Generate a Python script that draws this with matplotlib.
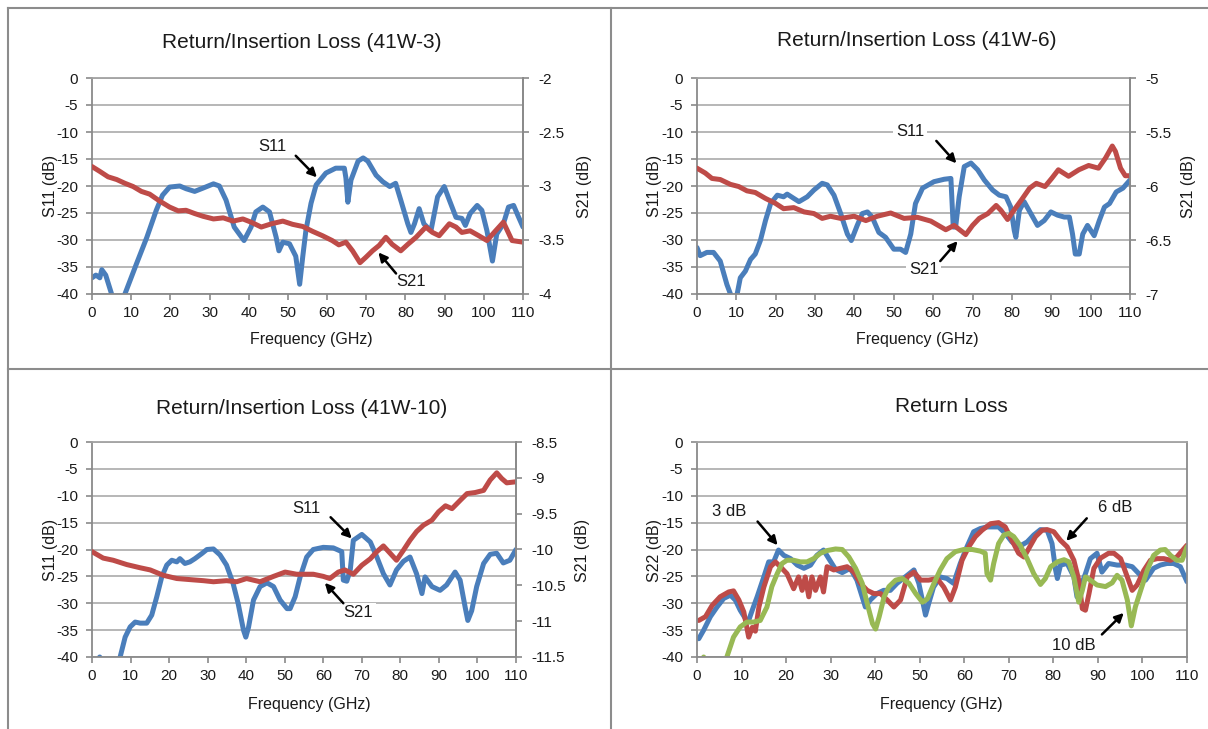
import numpy as np
import matplotlib
matplotlib.use('Agg')
import matplotlib.pyplot as plt
from matplotlib.lines import Line2D
from matplotlib.ticker import MultipleLocator, FormatStrFormatter

plt.rcParams['font.family'] = ['Liberation Sans', 'DejaVu Sans']
plt.rcParams['axes.unicode_minus'] = False

# ---- data (frequency in GHz, levels in dB) ----
p1_f_s11 = [0, 1, 2, 2.5, 3.5, 5, 6.5, 8.4, 11.3, 14, 16.4, 18, 19.8, 22.4, 24, 26.2, 28.3, 31, 32.5, 34.2,
            36.3, 38.8, 40.6, 41.8, 43.6, 45.3, 47, 47.7, 48.7, 50.4, 52, 53, 53.8, 54.6, 55.9, 57.2, 59.7,
            62.2, 64.4, 64.8, 65.3, 66.1, 67.9, 69.2, 70.4, 72.5, 74.2, 76, 77.5, 78.8, 80.6, 81.4, 82.3,
            83.5, 84.7, 86.5, 88.2, 89.9, 91.2, 92.9, 94.4, 95.3, 96.5, 98.3, 99.5, 100.8, 102.2, 103.3,
            105, 106.3, 107.6, 108.9, 110]
p1_s11 = [-37, -36.5, -37, -35.5, -36.5, -40, -45, -40, -34.5, -29.5, -24.5, -21.7, -20.2, -20, -20.5, -21,
          -20.4, -19.6, -20, -22.6, -27.6, -30.1, -27.6, -24.8, -23.9, -24.8, -29.5, -32, -30.4, -30.7, -33,
          -38.2, -33, -28.2, -23.2, -19.8, -17.6, -16.7, -16.7, -18.5, -23, -18.9, -15.4, -14.8, -15.4, -18,
          -19.2, -20.1, -19.5, -22.6, -27, -28.6, -27, -24.2, -27, -28.3, -22, -20.1, -22.6, -25.8, -26,
          -27.3, -25.1, -23.6, -24.5, -28.3, -33.9, -28.9, -27, -23.9, -23.6, -25.8, -27.6]
p1_f_s21 = [0, 2, 4.1, 6.3, 8.4, 10.5, 12.6, 14.7, 17.3, 19.8, 22, 24, 26.2, 28.3, 31, 33.5, 36, 38.5, 40.6,
            43.2, 45.8, 48.7, 51.2, 53.8, 56.3, 58.8, 61.3, 63, 64.8, 66.5, 68.4, 69.9, 71.6, 73.3, 75, 76.6,
            78.8, 80.6, 82.7, 85.2, 86.9, 88.6, 91.2, 92.9, 94.4, 96.5, 98.7, 100.8, 103, 105, 107.2, 110]
p1_s21 = [-2.82, -2.865, -2.915, -2.94, -2.975, -3.005, -3.05, -3.075, -3.14, -3.195, -3.23, -3.225, -3.255,
          -3.28, -3.305, -3.295, -3.325, -3.305, -3.335, -3.38, -3.35, -3.325, -3.355, -3.375, -3.42, -3.46,
          -3.505, -3.545, -3.52, -3.6, -3.71, -3.66, -3.6, -3.55, -3.475, -3.54, -3.6, -3.54, -3.475, -3.38,
          -3.43, -3.46, -3.35, -3.38, -3.43, -3.415, -3.46, -3.505, -3.415, -3.335, -3.505, -3.52]

p2_f_s11 = [0, 0.8, 2.5, 4.2, 5.9, 7.6, 8.5, 9.4, 10.2, 11, 12.3, 13.6, 14.8, 16.1, 17.4, 18.7, 20.4, 22, 22.9,
            24.6, 25.9, 28, 29.7, 31.8, 33.1, 34.8, 36.5, 38.2, 39.2, 40.7, 42, 43.3, 44.5, 46.2, 47.9, 50,
            51.7, 53, 54.3, 55.5, 57.3, 60.2, 62.8, 64.5, 65.1, 65.7, 66.6, 67.9, 69.6, 71.3, 73, 75.1, 76.8,
            78.5, 79.7, 80.6, 81, 81.9, 83.1, 84.8, 86.5, 88.2, 89.9, 91.6, 93.3, 94.6, 95.4, 96.1, 97.1, 98,
            99.2, 100.9, 102.2, 103.5, 104.8, 106.5, 108.2, 110]
p2_s11 = [-31.4, -32.9, -32.3, -32.3, -33.9, -38.25, -40, -43, -40, -37, -35.75, -33.6, -32.6, -30.1, -26.4,
          -23.25, -21.7, -22, -21.5, -22.3, -22.9, -22, -20.75, -19.5, -19.8, -21.7, -25.1, -28.9, -30.1,
          -27.3, -25.1, -24.8, -25.75, -28.6, -29.5, -31.7, -31.7, -32.3, -28.9, -23.25, -20.4, -19.2, -18.75,
          -18.6, -27.6, -27.6, -22, -16.4, -15.75, -17, -18.9, -20.75, -21.7, -22, -23.9, -28.25, -29.5, -24.5,
          -22.9, -25.1, -27.3, -26.4, -24.8, -25.4, -25.75, -25.75, -28.9, -32.6, -32.6, -28.9, -27.3, -29.2,
          -26.4, -23.9, -23.25, -21.1, -20.4, -18.9]
p2_f_s21 = [0, 2.1, 3.8, 5.9, 8.5, 10.6, 12.7, 14.8, 17.4, 19.9, 22, 24.6, 27.2, 29.7, 31.8, 33.9, 36.5, 39.9,
            42.9, 45.8, 49.2, 52.6, 56, 59.4, 63.2, 65.3, 68.3, 70, 71.7, 73.9, 76, 77.2, 78.9, 80.2, 82.4,
            84.5, 86.2, 88.4, 90.1, 91.8, 94.4, 97, 99.5, 102, 103.8, 105.5, 106.3, 107.6, 108.8, 110]
p2_s21 = [-5.835, -5.88, -5.93, -5.94, -5.985, -6.005, -6.045, -6.06, -6.115, -6.16, -6.21, -6.2, -6.24,
          -6.255, -6.3, -6.28, -6.3, -6.28, -6.32, -6.28, -6.25, -6.3, -6.29, -6.325, -6.405, -6.365, -6.45,
          -6.365, -6.3, -6.255, -6.18, -6.225, -6.31, -6.24, -6.13, -6.02, -5.975, -6.005, -5.93, -5.85,
          -5.91, -5.85, -5.81, -5.835, -5.74, -5.63, -5.68, -5.835, -5.905, -5.905]

p3_f_s11 = [0, 2, 4, 6, 7.3, 8.6, 9.9, 11.2, 12.5, 14.2, 15.5, 16.8, 18.1, 19.4, 20.7, 22, 22.8, 24.1, 25.4,
            26.7, 28.5, 29.8, 31.5, 33.2, 34.9, 36.6, 37.9, 39.3, 39.9, 40.6, 41.9, 43.6, 45.4, 47.1, 48.8,
            50.6, 51.4, 52.7, 54, 55.7, 57.4, 60, 62.6, 64.8, 65.2, 66.1, 67, 67.8, 70, 72.2, 73.9, 75.6, 77.3,
            79, 80.8, 82.5, 84.2, 85.6, 86.4, 88.2, 90.3, 92, 94.2, 95.5, 96.8, 97.5, 98.5, 99.8, 101.6, 103.3,
            105, 106.7, 108.4, 110]
p3_s11 = [-42, -40, -42, -43, -40, -36.3, -34.4, -33.5, -33.7, -33.7, -32.2, -28.8, -25.1, -22.9, -22, -22.3,
          -21.7, -22.6, -22.3, -21.7, -20.75, -20, -19.9, -21, -22.9, -26.3, -30, -35, -36.3, -34.5, -29.4,
          -26.9, -26.2, -26.9, -29.4, -31, -31, -28.8, -25.1, -21.4, -20, -19.6, -19.7, -20.4, -25.7, -25.9,
          -23.8, -18.3, -17.2, -18.6, -21.4, -24.5, -26.6, -23.8, -22.2, -21.4, -24.5, -28.2, -25.1, -26.9,
          -27.6, -26.6, -24.2, -25.7, -30.7, -33.2, -31.4, -26.9, -22.6, -20.9, -20.7, -22.5, -22, -20]
p3_f_s21 = [0, 2.9, 5.5, 9, 12.5, 15.1, 18.5, 22, 25.4, 28.9, 31.5, 34.9, 37.5, 40.1, 43.6, 47.1, 50.1, 53.1,
            57.4, 60, 61.7, 63.9, 65.6, 67.8, 70, 72.2, 73.9, 75.6, 77.3, 79, 80.8, 82.5, 84.2, 86, 88.2, 89.9,
            91.7, 93.4, 95.6, 97.3, 99.4, 101.6, 103.3, 105, 106.3, 107.6, 110]
p3_s21 = [-10.03, -10.12, -10.15, -10.21, -10.255, -10.285, -10.36, -10.405, -10.42, -10.435, -10.45, -10.435,
          -10.45, -10.405, -10.45, -10.375, -10.315, -10.345, -10.345, -10.375, -10.405, -10.315, -10.285,
          -10.345, -10.22, -10.13, -10.03, -9.95, -10.05, -10.15, -10.01, -9.87, -9.75, -9.66, -9.59, -9.475,
          -9.39, -9.43, -9.31, -9.22, -9.205, -9.175, -9.03, -8.93, -9.01, -9.07, -9.055]

p4_f_3db = [0.4, 1.5, 3, 4.5, 6, 7.5, 8.6, 9.7, 10.9, 11.6, 12.4, 13.5, 15, 16.1, 17.2, 18.3, 19.5, 21, 22.5,
            24, 25.5, 26.9, 28.4, 29.6, 31.1, 32.6, 34.4, 35.9, 37.8, 38.9, 40.4, 41.9, 43.4, 44.9, 47.2, 48.7,
            49.8, 51.3, 52, 53.1, 54.6, 56.1, 57.6, 59.1, 60.6, 62.1, 63.6, 65.1, 66.2, 67.7, 69.2, 70.7, 72.2,
            74.1, 75.6, 77.1, 78.6, 79.7, 80.5, 80.9, 81.6, 83.1, 84.6, 85.3, 86.1, 87.2, 88.3, 89.8, 90.9,
            92.4, 94.3, 96.2, 97.7, 99.2, 100.7, 102.5, 104, 105.5, 107, 108.5, 110]
p4_3db = [-36.6, -35, -32.5, -30.7, -29.1, -28.5, -29.4, -31.3, -32.9, -33.2, -31.3, -28.8, -25.1, -22.3,
          -22.3, -20.1, -21.1, -21.7, -22.9, -23.5, -22.9, -21.1, -20.1, -21.7, -23.7, -24.3, -23.5, -25.7,
          -30.7, -29.4, -28.2, -27.6, -27.6, -26.3, -24.8, -23.8, -26.3, -32.2, -30.1, -27, -25.1, -25.4,
          -26.3, -22.6, -19.5, -16.7, -16.1, -15.8, -15.8, -15.8, -17, -18.6, -19.5, -18.6, -17.3, -16.3,
          -16.4, -18.9, -23.8, -25.4, -22.9, -22.6, -25.1, -28.8, -27, -24.5, -21.7, -20.7, -24.2, -22.6,
          -22.9, -22.9, -23.2, -24.5, -25.7, -23.5, -22.9, -22.6, -22.6, -23.2, -26]
p4_f_6db = [0.4, 1.9, 3.4, 5.2, 7.1, 8.2, 9.4, 10.5, 11.6, 12.4, 13.1, 13.9, 15, 16.5, 17.6, 18.7, 20.2, 21.7,
            22.8, 23.6, 24.3, 25.1, 25.8, 26.6, 27.7, 28.4, 29.2, 30.7, 32.2, 33.7, 35.2, 36.7, 38.2, 39.7,
            41.2, 42.7, 44.2, 45.7, 47.2, 48.7, 50.2, 52, 53.9, 55.4, 56.9, 58, 59.5, 61, 62.5, 64, 65.9, 67.7,
            69.2, 70.7, 72.2, 73.4, 74.5, 76, 77.5, 78.6, 80.1, 81.6, 83.1, 84.6, 85.7, 86.5, 87.2, 88, 89.1,
            90.6, 92.4, 93.6, 95.1, 96.6, 97.7, 98.8, 100.3, 101.8, 103.3, 104.8, 106.3, 107.7, 110]
p4_6db = [-33.2, -32.5, -30.4, -28.8, -27.9, -27.7, -29.4, -31.6, -36.3, -34.5, -35.2, -30.7, -27, -23.2,
          -22.3, -23.2, -24.5, -27.3, -25.1, -27.6, -25.1, -28.8, -25.1, -27.6, -25.1, -27.9, -23.2, -23.8,
          -23.5, -23.2, -24.2, -26.3, -27.6, -28.2, -28.2, -29.4, -30.7, -29.4, -25.1, -24.2, -25.7, -25.7,
          -25.4, -27, -29.4, -27, -22, -19.5, -17.6, -16.4, -15.2, -15, -15.8, -18.3, -20.7, -21.4, -19.8,
          -17.6, -16.4, -16.3, -16.7, -18.3, -19.5, -22, -25.7, -31, -31.3, -28.2, -23.5, -21.6, -20.7, -20.7,
          -21.7, -25.1, -27.6, -26.6, -23.9, -22, -21.7, -21.7, -22, -21.4, -19.2]
p4_f_10db = [0, 1.5, 3, 5, 6.7, 8.2, 9.7, 11.2, 12.7, 14.2, 15.7, 16.8, 18, 19.1, 20.2, 21.7, 23.2, 24.7, 26.2,
             27.7, 29.2, 31.1, 32.6, 34.1, 35.6, 37.1, 38.2, 39.4, 40.1, 40.9, 42, 43.1, 44.6, 46.1, 47.6, 49.1,
             50.6, 51.7, 53.2, 54.6, 56.1, 58, 59.9, 61.8, 63.6, 64.7, 65.1, 65.9, 66.6, 67.7, 68.9, 70, 71.1,
             72.6, 74.1, 75.6, 77.1, 78.2, 79.4, 80.9, 82.4, 83.5, 84.6, 85.7, 86.5, 87.2, 88.3, 89.8, 91.7,
             93.2, 94.3, 95.4, 96.6, 97.5, 98.4, 99.6, 101.1, 102.5, 104, 105.1, 106.3, 107.7, 108.9, 110]
p4_10db = [-42, -40, -43, -44, -40, -36.3, -34.4, -33.5, -33.5, -33.2, -30.7, -26.9, -24.5, -22.6, -22, -22,
           -22.3, -22.3, -21.7, -20.7, -20.2, -19.9, -20, -21.4, -23.5, -26.3, -30, -33.8, -34.8, -32.5, -28.8,
           -26.9, -25.7, -25.4, -26.3, -28.2, -29.8, -29.2, -26.3, -23.8, -21.7, -20.4, -20, -20, -20.3, -20.7,
           -24.5, -25.7, -22.6, -18.9, -17.3, -17, -17.6, -19.3, -21.7, -24.5, -26.5, -25.4, -23.2, -22.3,
           -21.9, -22.3, -25.1, -29.8, -27.6, -25.1, -25.7, -26.6, -26.9, -26.2, -24.8, -25.7, -29.4, -34.2,
           -30.7, -27.6, -23.8, -21.1, -20.1, -20, -21.1, -22, -22, -19.5]

titles = ['Return/Insertion Loss (41W-3)', 'Return/Insertion Loss (41W-6)',
          'Return/Insertion Loss (41W-10)', 'Return Loss']

BLUE = '#4a7ebb'
RED = '#be4b48'
GREEN = '#98b954'
GRID = '#a3a3a3'
AXIS = '#8a8a8a'
FRAME = '#8c8c8c'
LW = 3.6

W, H = 1208, 729
fig = plt.figure(figsize=(W / 100, H / 100), dpi=100)


def px_axes(l, t, r, b):
    return fig.add_axes([l / W, 1 - b / H, (r - l) / W, (b - t) / H])


def ftext(x, y, s, **kw):
    fig.text(x / W, 1 - y / H, s, ha='center', va='center', color='#1a1a1a', **kw)


def setup(ax):
    ax.set_xlim(0, 110)
    ax.set_ylim(-40, 0)
    ax.xaxis.set_major_locator(MultipleLocator(10))
    ax.yaxis.set_major_locator(MultipleLocator(5))
    ax.yaxis.grid(True, color=GRID, lw=1.1)
    ax.set_axisbelow(True)
    for s in ax.spines.values():
        s.set_color(AXIS)
        s.set_linewidth(1.3)
    ax.spines['top'].set_color(GRID)
    ax.tick_params(direction='out', length=4, width=1.2, color=AXIS, labelsize=11, labelcolor='#1a1a1a')
    ax.tick_params(axis='x', pad=5)
    ax.tick_params(axis='y', pad=6)


def right_axis(ax, lo, hi):
    ax2 = ax.twinx()
    ax2.set_ylim(lo, hi)
    ax2.yaxis.set_major_locator(MultipleLocator(0.5))
    ax2.yaxis.set_major_formatter(FormatStrFormatter('%g'))
    for s in ax2.spines.values():
        s.set_visible(False)
    ax2.spines['right'].set_visible(True)
    ax2.spines['right'].set_color(AXIS)
    ax2.spines['right'].set_linewidth(1.3)
    ax2.tick_params(direction='out', length=4, width=1.2, color=AXIS, labelsize=11, labelcolor='#1a1a1a', pad=7)
    return ax2


def note(top, ax, text, tx, ty, tail, head):
    top.text(tx, ty, text, transform=ax.transData, ha='center', va='center', fontsize=12,
             color='#1a1a1a', bbox=dict(fc='white', ec='none', pad=2), zorder=5)
    top.annotate('', xy=head, xytext=tail, xycoords=ax.transData, textcoords=ax.transData,
                 arrowprops=dict(arrowstyle='-|>', color='black', lw=1.8, mutation_scale=13,
                                 shrinkA=0, shrinkB=0), zorder=6)


line_kw = dict(lw=LW, solid_joinstyle='round', solid_capstyle='round')

# panel 1
ax1 = px_axes(92, 78, 523, 294)
setup(ax1)
ax1.plot(p1_f_s11, p1_s11, color=BLUE, **line_kw)
ax1b = right_axis(ax1, -4, -2)
ax1b.plot(p1_f_s21, p1_s21, color=RED, **line_kw)
note(ax1b, ax1, 'S11', 46, -12.6, (52, -14.4), (57.4, -18.4))
note(ax1b, ax1, 'S21', 81.4, -37.7, (77.6, -36.2), (73.1, -32.3))

# panel 2
ax2 = px_axes(697, 78, 1130, 294)
setup(ax2)
ax2.plot(p2_f_s11, p2_s11, color=BLUE, **line_kw)
ax2b = right_axis(ax2, -7, -5)
ax2b.plot(p2_f_s21, p2_s21, color=RED, **line_kw)
note(ax2b, ax2, 'S11', 54.2, -10, (60.8, -11.65), (65.9, -15.8))
note(ax2b, ax2, 'S21', 57.6, -35.5, (61.8, -33.9), (66.2, -30.2))

# panel 3
ax3 = px_axes(92, 442, 516, 657)
setup(ax3)
ax3.plot(p3_f_s11, p3_s11, color=BLUE, **line_kw)
ax3b = right_axis(ax3, -11.5, -8.5)
ax3b.plot(p3_f_s21, p3_s21, color=RED, **line_kw)
note(ax3b, ax3, 'S11', 55.7, -12.4, (61.9, -14), (67.4, -17.95))
note(ax3b, ax3, 'S21', 69.1, -31.8, (65.2, -30), (60.4, -26.2))

# panel 4
ax4 = px_axes(697, 442, 1187, 657)
setup(ax4)
ax4.plot(p4_f_3db, p4_3db, color=BLUE, **line_kw)
ax4.plot(p4_f_6db, p4_6db, color=RED, **line_kw)
ax4.plot(p4_f_10db, p4_10db, color=GREEN, **line_kw)
note(ax4, ax4, '3 dB', 7.3, -12.9, (13.6, -14.8), (18.1, -19.2))
note(ax4, ax4, '6 dB', 93.9, -12.2, (87.5, -14.2), (82.9, -18.4))
note(ax4, ax4, '10 dB', 84.5, -37.8, (90.9, -35.8), (95.8, -31.8))

# titles and axis labels
ftext(302, 43, titles[0], fontsize=15)
ftext(917, 40, titles[1], fontsize=15)
ftext(302, 408, titles[2], fontsize=15)
ftext(951, 406, titles[3], fontsize=15)
for x, y in [(311, 340), (917, 340), (309, 704), (941, 704)]:
    ftext(x, y, 'Frequency (GHz)', fontsize=11.5)
ftext(50, 186, 'S11 (dB)', fontsize=11.5, rotation=90)
ftext(655, 186, 'S11 (dB)', fontsize=11.5, rotation=90)
ftext(50, 550, 'S11 (dB)', fontsize=11.5, rotation=90)
ftext(655, 550, 'S22 (dB)', fontsize=11.5, rotation=90)
ftext(585, 186, 'S21 (dB)', fontsize=11.5, rotation=90)
ftext(1188, 186, 'S21 (dB)', fontsize=11.5, rotation=90)
ftext(583, 550, 'S21 (dB)', fontsize=11.5, rotation=90)

# panel frame lines
for (x0, y0, x1, y1) in [(8, 8, W, 8), (8, 369, W, 369), (8, 8, 8, H), (611, 8, 611, H)]:
    fig.add_artist(Line2D([x0 / W, x1 / W], [1 - y0 / H, 1 - y1 / H], color=FRAME, lw=1.5,
                          transform=fig.transFigure))

fig.savefig('out.png', dpi=100)
